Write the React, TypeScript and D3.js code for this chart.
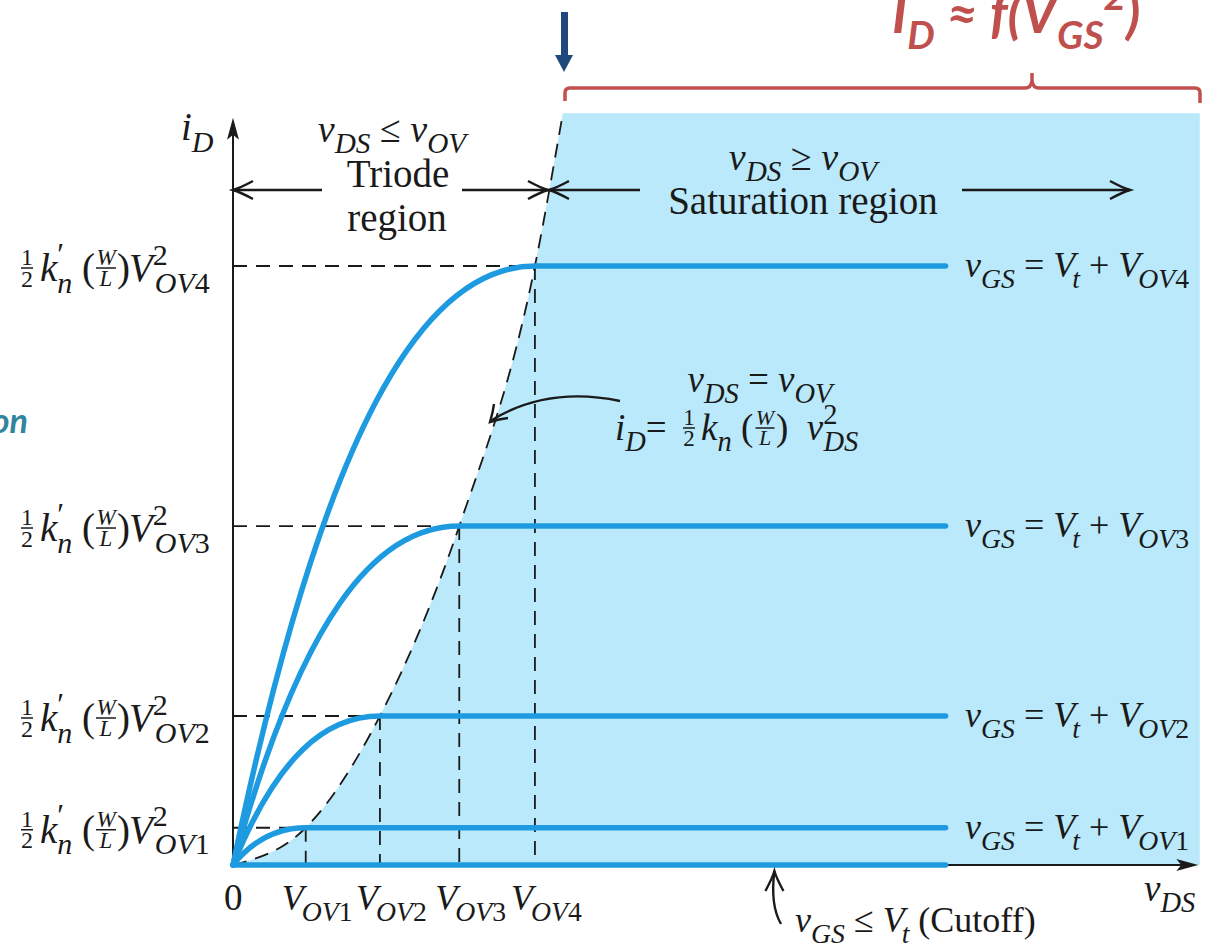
import React from "react";
import * as d3 from "d3";

// knee points of the four i-v curves (axis units)
const overdriveNames = ["OV1", "OV2", "OV3", "OV4"];
const vovValues = [0.99, 2.0, 3.08, 4.11];
const idSatValues = [0.5, 2.0, 4.55, 8.04];
const vdsEnd = 9.7; // where the saturation lines stop
const edgeTop = [4.49, 10.09]; // where the dashed edge leaves the plot
const shadeRight = 13.16;
const axisMaxX = 13.14;
const axisMaxY = 10.03;

const W = 1222;
const H = 943;
const SERIF = "'Liberation Serif', 'Times New Roman', serif";
const SANS = "Lato, 'Open Sans', sans-serif";
const INK = "#1a1a1a";
const BLUE = "#1e9be0";
const SHADE = "#b9e9fa";
const RED = "#c0504d";

const x = d3.scaleLinear().domain([0, 13]).range([233, 1188]);
const y = d3.scaleLinear().domain([0, 10]).range([865, 120]);

type Seg = { t: string; i?: boolean; sub?: boolean; sup?: boolean; dx?: number; scale?: number };

function Rich(props: {
  x: number;
  y: number;
  size: number;
  segs: Seg[];
  anchor?: string;
  fill?: string;
  family?: string;
  weight?: string;
  allItalic?: boolean;
}) {
  const { size, segs } = props;
  let off = 0;
  return (
    <text
      x={props.x}
      y={props.y}
      fontSize={size}
      textAnchor={props.anchor || "start"}
      fill={props.fill || INK}
      fontFamily={props.family || SERIF}
      fontWeight={props.weight || "normal"}
      style={{ whiteSpace: "pre" }}
    >
      {segs.map((s, k) => {
        const target = s.sub ? size * 0.3 : s.sup ? -size * 0.42 : 0;
        const dy = target - off;
        off = target;
        const fs = s.sub || s.sup ? size * (s.scale || 0.77) : size;
        return (
          <tspan key={k} dy={dy} dx={s.dx || 0} fontSize={fs} fontStyle={s.i || props.allItalic ? "italic" : "normal"}>
            {s.t}
          </tspan>
        );
      })}
    </text>
  );
}

function Frac(props: { cx: number; bar: number; num: string; den: string; size: number; italic?: boolean; w: number }) {
  const st = props.italic ? "italic" : "normal";
  return (
    <g fontFamily={SERIF} fontSize={props.size} fill={INK} textAnchor="middle" fontStyle={st}>
      <text x={props.cx} y={props.bar - 3}>{props.num}</text>
      <line x1={props.cx - props.w / 2} x2={props.cx + props.w / 2} y1={props.bar} y2={props.bar} stroke={INK} strokeWidth={1.5} />
      <text x={props.cx} y={props.bar + props.size * 0.78}>{props.den}</text>
    </g>
  );
}

function chevron(tx: number, ty: number, dir: string) {
  const L = 20;
  const S = 9;
  if (dir === "left") return `M${tx + L},${ty - S}Q${tx + 7},${ty - 2} ${tx},${ty}Q${tx + 7},${ty + 2} ${tx + L},${ty + S}`;
  if (dir === "right") return `M${tx - L},${ty - S}Q${tx - 7},${ty - 2} ${tx},${ty}Q${tx - 7},${ty + 2} ${tx - L},${ty + S}`;
  return `M${tx - S},${ty + L}Q${tx - 2},${ty + 7} ${tx},${ty}Q${tx + 2},${ty + 7} ${tx + S},${ty + L}`;
}

function LeftLabel({ level, name }: { level: number; name: string }) {
  const b = level + 15;
  const digit = name.slice(2);
  return (
    <g>
      <Frac cx={27} bar={b - 13} num="1" den="2" size={24} w={12} />
      <Rich x={40} y={b} size={39} segs={[{ t: "k", i: true }, { t: "′", sup: true, scale: 0.8 }, { t: "n", sub: true, i: true, dx: -7 }]} />
      <text x={82} y={b} fontFamily={SERIF} fontSize={39} fill={INK}>(</text>
      <Frac cx={106} bar={b - 13} num="W" den="L" size={23} italic w={20} />
      <text x={117} y={b} fontFamily={SERIF} fontSize={39} fill={INK}>)</text>
      <Rich
        x={129}
        y={b}
        size={39}
        segs={[
          { t: "V", i: true },
          { t: "2", sup: true },
          { t: "OV", sub: true, i: true, dx: -13 },
          { t: digit, sub: true },
        ]}
      />
    </g>
  );
}

export default function App() {
  const knees = vovValues.map((v, k) => [v, idSatValues[k]] as [number, number]);
  const edgePts: [number, number][] = [[0, 0], ...knees, [edgeTop[0], edgeTop[1]]];
  const edgeLine = d3
    .line<[number, number]>()
    .x((d) => x(d[0]))
    .y((d) => y(d[1]))
    .curve(d3.curveMonotoneX);
  const edgeD = edgeLine(edgePts) || "";
  const shadeD = `${edgeD}L${x(shadeRight)},${y(edgeTop[1])}L${x(shadeRight)},${y(0)}Z`;

  // triode segment: steep rise from the origin, flat at the knee
  const curveD = (k: number) => {
    const v = vovValues[k];
    const i = idSatValues[k];
    return `M${x(0)},${y(0)}C${x(v * 0.3)},${y(i * 0.73)} ${x(v * 0.63)},${y(i)} ${x(v)},${y(i)}H${x(vdsEnd)}`;
  };

  const dash = "14 9";
  const arrowY = 190;

  return (
    <svg width={W} height={H} style={{ position: "absolute", left: 0, top: 0, background: "#fff" }}>
      {/* saturation shading */}
      <path d={shadeD} fill={SHADE} />

      {/* dashed guides */}
      <g stroke={INK} strokeWidth={1.8} strokeDasharray={dash} fill="none">
        <path d={edgeD} />
        {knees.map((d, k) => (
          <g key={k}>
            <line x1={x(0)} x2={x(d[0])} y1={y(d[1])} y2={y(d[1])} />
            <line x1={x(d[0])} x2={x(d[0])} y1={y(d[1])} y2={y(0)} />
          </g>
        ))}
      </g>

      {/* axes */}
      <g stroke={INK} strokeWidth={2}>
        <line x1={x(0)} x2={x(0)} y1={y(0)} y2={y(axisMaxY) + 14} />
        <line x1={x(0)} x2={x(axisMaxX) - 14} y1={y(0)} y2={y(0)} />
      </g>
      <path d={`M${x(0)},${y(axisMaxY)}L${x(0) - 6},${y(axisMaxY) + 22}L${x(0)},${y(axisMaxY) + 17}L${x(0) + 6},${y(axisMaxY) + 22}Z`} fill={INK} />
      <path d={`M${x(axisMaxX)},${y(0)}L${x(axisMaxX) - 22},${y(0) - 6}L${x(axisMaxX) - 17},${y(0)}L${x(axisMaxX) - 22},${y(0) + 6}Z`} fill={INK} />

      {/* characteristic curves */}
      <g stroke={BLUE} strokeWidth={5.5} fill="none" strokeLinecap="round">
        <line x1={x(0)} x2={x(vdsEnd)} y1={y(0)} y2={y(0)} />
        {knees.map((_, k) => (
          <path key={k} d={curveD(k)} />
        ))}
      </g>

      {/* region arrows */}
      <g stroke={INK} strokeWidth={2.4} fill="none">
        <line x1={x(0)} x2={322} y1={arrowY} y2={arrowY} />
        <path d={chevron(x(0), arrowY, "left")} />
        <line x1={462} x2={548} y1={arrowY} y2={arrowY} />
        <path d={chevron(548, arrowY, "right")} />
        <line x1={549} x2={640} y1={arrowY} y2={arrowY} />
        <path d={chevron(549, arrowY, "left")} />
        <line x1={962} x2={1130} y1={arrowY} y2={arrowY} />
        <path d={chevron(1130, arrowY, "right")} />
        {/* annotation arrow to the edge curve */}
        <path d="M620,401 Q548,386 492,420" />
        <path d="M494,404 Q493,412 490,422 Q499,419 508,418" />
        {/* cutoff arrow */}
        <path d={`M781,924 Q770,905 ${x(7.37)},${y(0) + 6}`} />
        <path d={chevron(x(7.37), y(0) + 6, "up")} />
      </g>

      {/* region texts */}
      <Rich x={392} y={142} size={38} anchor="middle" segs={[{ t: "v", i: true }, { t: "DS", sub: true, i: true }, { t: " ≤ " }, { t: "v", i: true }, { t: "OV", sub: true, i: true }]} />
      <text x={398} y={187} fontFamily={SERIF} fontSize={39} fill={INK} textAnchor="middle">Triode</text>
      <text x={397} y={231} fontFamily={SERIF} fontSize={39} fill={INK} textAnchor="middle">region</text>
      <Rich x={803} y={170} size={38} anchor="middle" segs={[{ t: "v", i: true }, { t: "DS", sub: true, i: true }, { t: " ≥ " }, { t: "v", i: true }, { t: "OV", sub: true, i: true }]} />
      <text x={803} y={214} fontFamily={SERIF} fontSize={39} fill={INK} textAnchor="middle">Saturation region</text>

      {/* edge annotation */}
      <Rich x={760} y={392} size={37} anchor="middle" segs={[{ t: "v", i: true }, { t: "DS", sub: true, i: true }, { t: " = " }, { t: "v", i: true }, { t: "OV", sub: true, i: true }]} />
      <Rich x={615} y={440} size={37} segs={[{ t: "i", i: true }, { t: "D", sub: true, i: true }, { t: "=" }]} />
      <Frac cx={689} bar={428} num="1" den="2" size={23} w={12} />
      <Rich x={701} y={440} size={37} segs={[{ t: "k", i: true }, { t: "n", sub: true, i: true }, { t: " (" }]} />
      <Frac cx={765} bar={428} num="W" den="L" size={22} italic w={19} />
      <Rich x={776} y={440} size={37} segs={[{ t: ")  " }, { t: "v", i: true }, { t: "2", sup: true }, { t: "DS", sub: true, i: true, dx: -14 }]} />

      {/* left tick labels */}
      {knees.map((d, k) => (
        <LeftLabel key={k} level={y(d[1])} name={overdriveNames[k]} />
      ))}

      {/* right curve labels */}
      {knees.map((d, k) => (
        <Rich
          key={k}
          x={965}
          y={y(d[1]) + 11}
          size={36}
          segs={[
            { t: "v", i: true },
            { t: "GS", sub: true, i: true },
            { t: " = " },
            { t: "V", i: true },
            { t: "t", sub: true, i: true, dx: -3 },
            { t: " + " },
            { t: "V", i: true },
            { t: "OV", sub: true, i: true, dx: -2 },
            { t: overdriveNames[k].slice(2), sub: true },
          ]}
        />
      ))}

      {/* bottom labels */}
      <text x={224} y={910} fontFamily={SERIF} fontSize={37} fill={INK}>0</text>
      {vovValues.map((v, k) => (
        <Rich
          key={k}
          x={x(v) - 24}
          y={910}
          size={36}
          segs={[
            { t: "V", i: true },
            { t: "OV", sub: true, i: true, dx: -2 },
            { t: overdriveNames[k].slice(2), sub: true },
          ]}
        />
      ))}
      <Rich x={1144} y={901} size={37} segs={[{ t: "v", i: true }, { t: "DS", sub: true, i: true }]} />
      <Rich x={181} y={140} size={39} segs={[{ t: "i", i: true }, { t: "D", sub: true, i: true }]} />
      <Rich
        x={795}
        y={932}
        size={36}
        segs={[
          { t: "v", i: true },
          { t: "GS", sub: true, i: true },
          { t: " ≤ " },
          { t: "V", i: true },
          { t: "t", sub: true, i: true, dx: -3 },
          { t: " (Cutoff)" },
        ]}
      />

      {/* slide overlays */}
      <rect x={561} y={12} width={7} height={44} fill="#1f497d" />
      <path d="M555,55 L573,55 L564,72 Z" fill="#1f497d" />
      <g stroke={RED} strokeWidth={3.5} fill="none">
        <path d="M565,101 V93 Q565,88 570,88 H1025 Q1031,88 1032,81 V73" />
        <path d="M1032,81 Q1033,88 1039,88 H1195 Q1200,88 1200,93 V103" />
      </g>
      <Rich
        x={892}
        y={33}
        size={54}
        family={SANS}
        weight="bold"
        fill={RED}
        allItalic
        segs={[
          { t: "I" },
          { t: "D", sub: true, scale: 0.72 },
          { t: " ≈ " },
          { t: "f(V" },
          { t: "GS", sub: true, scale: 0.72 },
          { t: "2", sup: true, scale: 0.72 },
          { t: ")" },
        ]}
      />
      <text x={28} y={433} fontFamily={SANS} fontSize={34} fontWeight="bold" fontStyle="italic" fill="#31859c" textAnchor="end">on</text>
    </svg>
  );
}
